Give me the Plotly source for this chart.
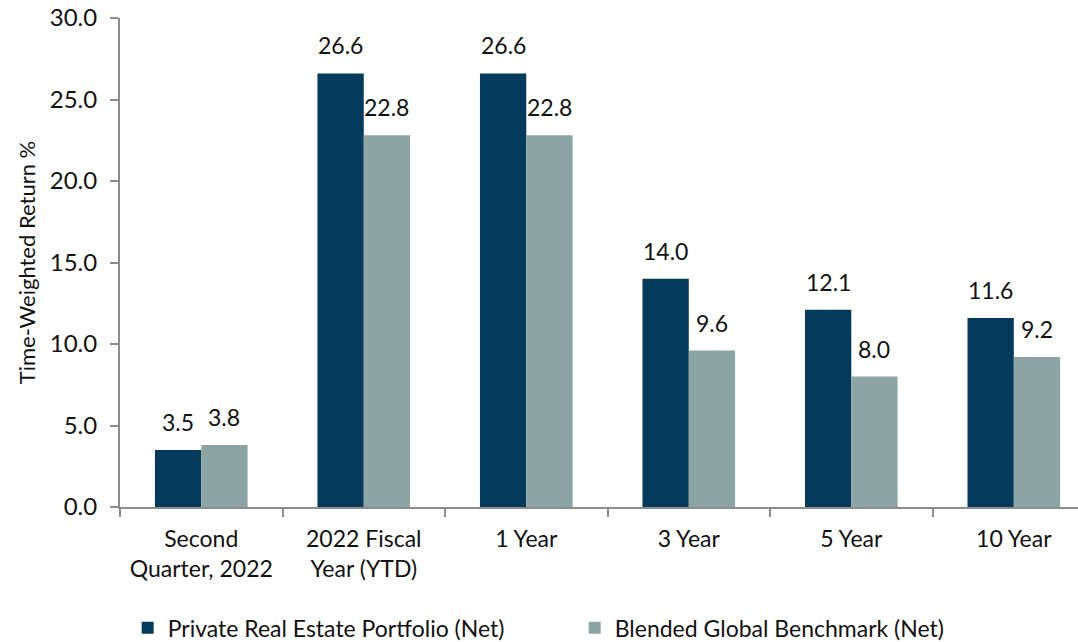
import plotly.graph_objects as go

categories = ["Second<br>Quarter, 2022", "2022 Fiscal<br>Year (YTD)", "1 Year", "3 Year", "5 Year", "10 Year"]
portfolio = [3.5, 26.6, 26.6, 14.0, 12.1, 11.6]
benchmark = [3.8, 22.8, 22.8, 9.6, 8.0, 9.2]
series_names = ["Private Real Estate Portfolio (Net)", "Blended Global Benchmark (Net)"]
colors = ["#043A5C", "#8DA4A4"]

FONT = "Lato"
FS = 23
fig = go.Figure()
for name, vals, col in zip(series_names, [portfolio, benchmark], colors):
    fig.add_trace(go.Bar(x=categories, y=vals, name=name, marker=dict(color=col, line=dict(width=0))))

annotations = []
for vals, shift in [(portfolio, -23), (benchmark, 23)]:
    for c, v in zip(categories, vals):
        annotations.append(dict(x=c, y=v, text=f"{v:.1f}", showarrow=False, xshift=shift,
                                yshift=28, font=dict(family=FONT, size=FS, color="#111")))

fig.update_layout(
    width=1078, height=642,
    margin=dict(l=120, r=0, t=18, b=135, autoexpand=False),
    paper_bgcolor="white", plot_bgcolor="white",
    barmode="group", bargap=0.43, bargroupgap=0,
    font=dict(family=FONT, size=FS, color="#111"),
    annotations=annotations,
    showlegend=True,
    legend=dict(orientation="h", x=0.008, xref="paper", xanchor="left", y=0.022, yref="container", yanchor="middle",
                font=dict(family=FONT, size=FS, color="#111"), itemwidth=30, entrywidth=402,
                traceorder="normal"),
    xaxis=dict(range=[-0.5, 5.395], showline=True, linecolor="#8C8C8C", linewidth=2,
               ticks="outside", tickson="boundaries", ticklen=8, tickcolor="#8C8C8C", tickwidth=2,
               tickfont=dict(family=FONT, size=FS, color="#111"), showgrid=False, zeroline=False,
               ticklabelstandoff=10),
    yaxis=dict(range=[0, 30], dtick=5, tickformat=".1f", showline=True, linecolor="#8C8C8C", linewidth=2,
               ticks="outside", ticklen=8, tickcolor="#8C8C8C", tickwidth=2, showgrid=False, zeroline=False,
               tickfont=dict(family=FONT, size=24, color="#111"), ticklabelstandoff=8,
               title=dict(text="Time-Weighted Return %", font=dict(family=FONT, size=22, color="#111"), standoff=8)),
)
fig.write_html("out.html")
